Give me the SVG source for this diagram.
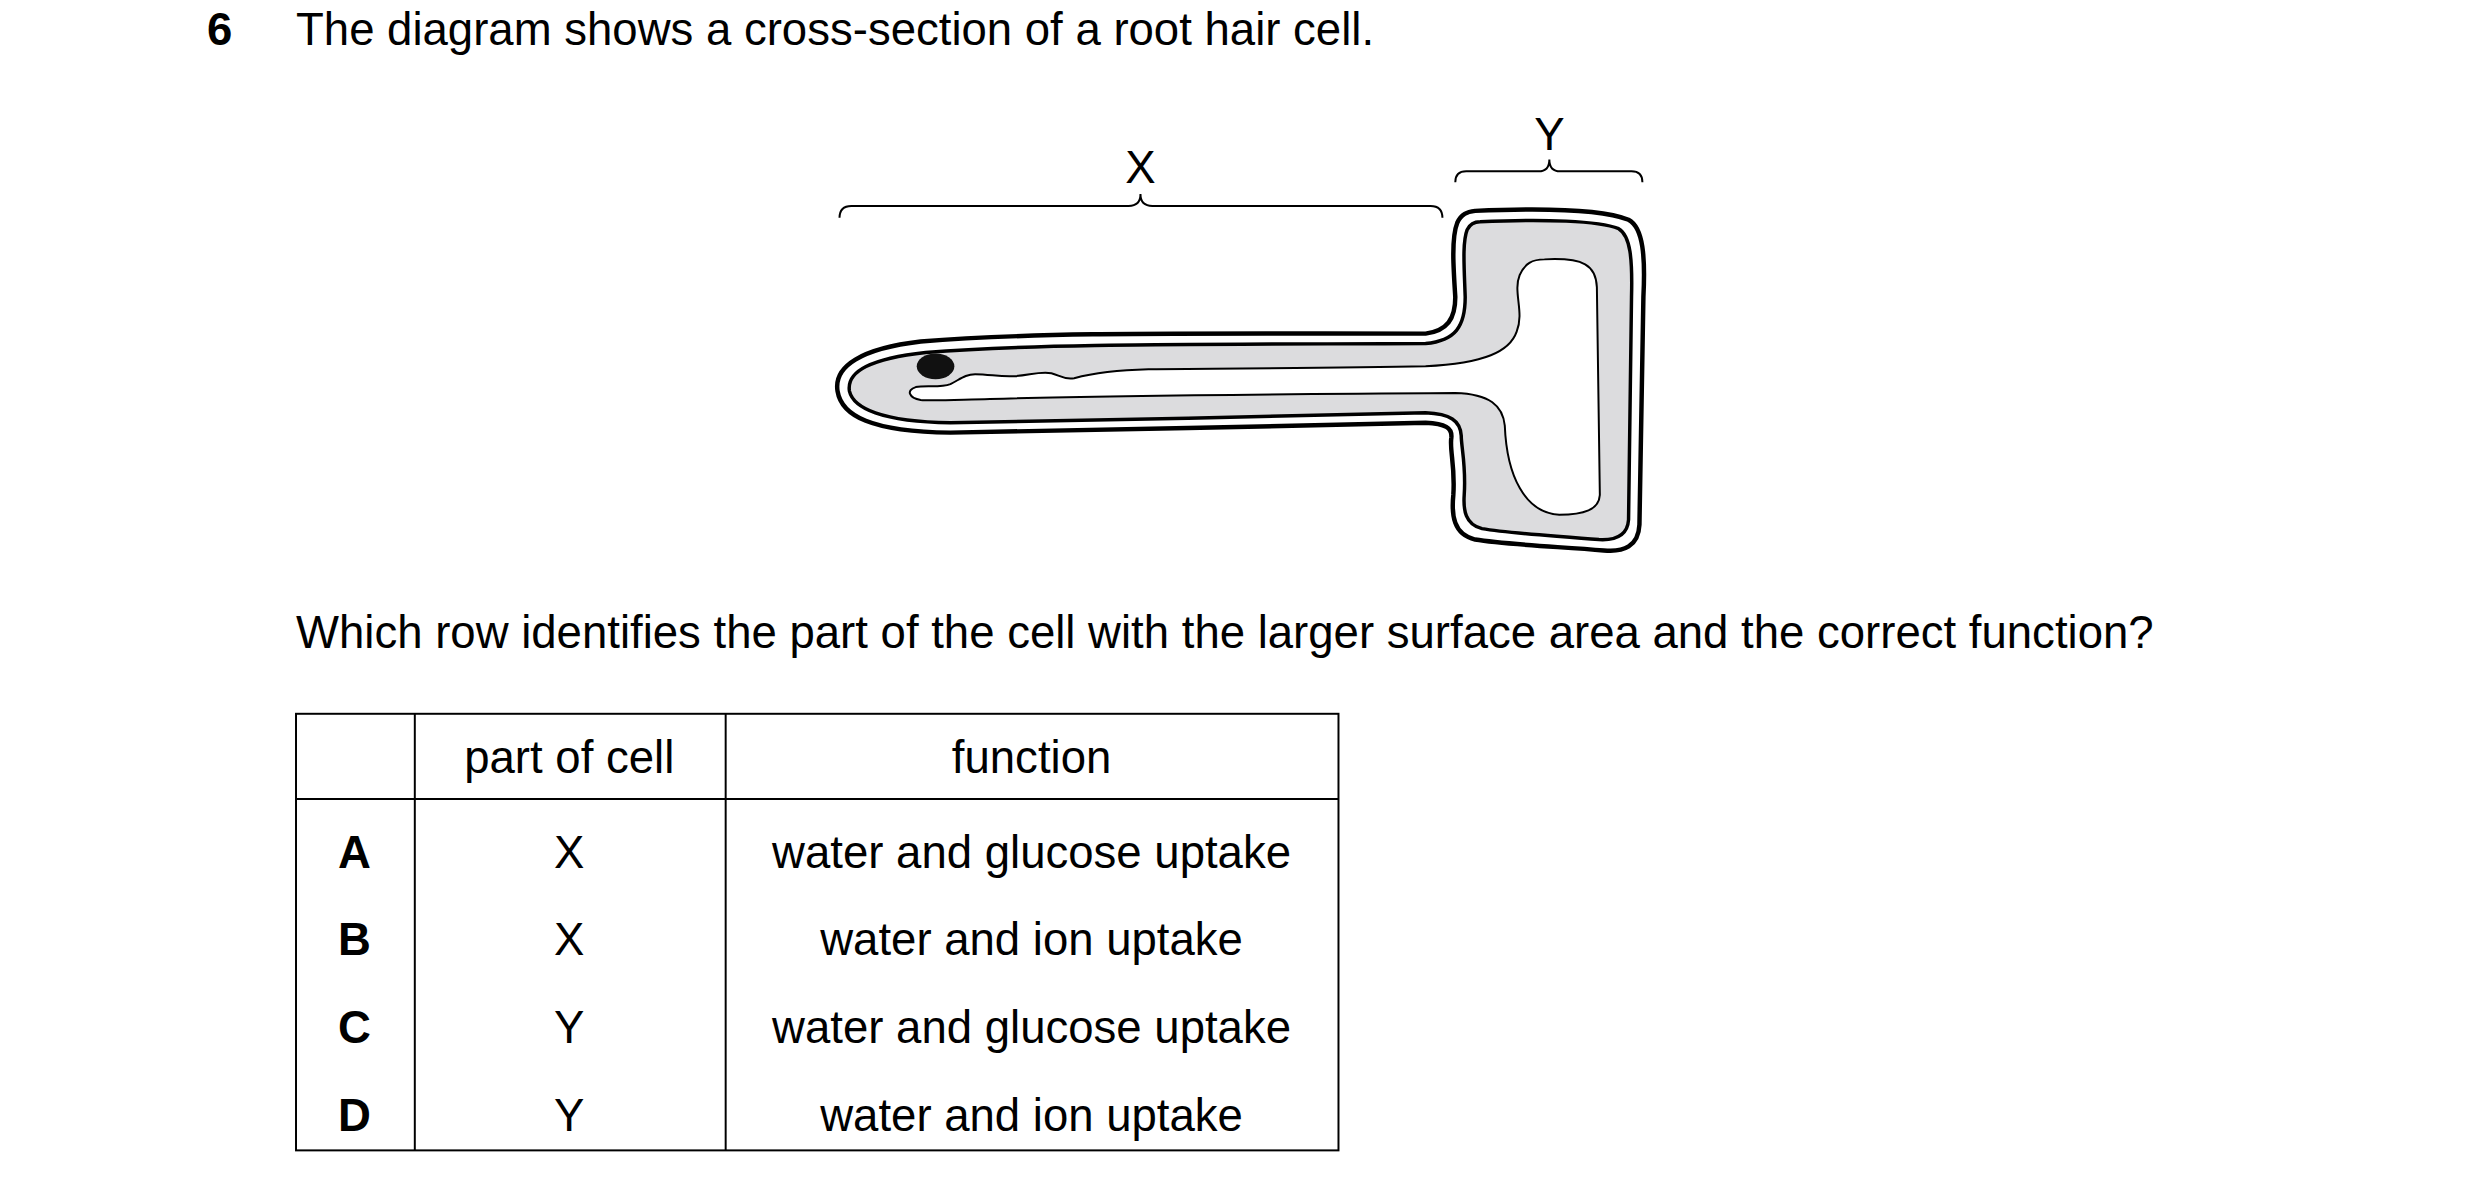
<svg xmlns="http://www.w3.org/2000/svg" width="2480" height="1191" viewBox="0 0 2480 1191">
<style>
text{font-family:"Liberation Sans",Arial,sans-serif;font-size:46px;fill:#000}
.b{font-weight:bold}
.c{text-anchor:middle}
.ln{stroke:#000;stroke-width:2;fill:none}
</style>
<rect width="2480" height="1191" fill="#fff"/>
<g transform="scale(0.99)">
<text x="209" y="45" class="b">6</text>
<text x="299" y="45">The diagram shows a cross-section of a root hair cell.</text>
<g id="cell">
<path d="M1490,213 C1560,210 1620,212 1645,222 C1660,230 1662,260 1660,300 L1656,530 C1655,552 1640,558 1620,556 C1570,552 1520,550 1490,545 C1468,540 1466,520 1468,500 C1470,470 1464,455 1466,442 C1467,432 1460,428 1440,427 C1300,430 1100,435 960,437 C880,436 850,420 846,395 C842,370 870,352 930,345 C1050,335 1200,337 1440,337 C1462,334 1470,322 1470,300 C1468,270 1466,240 1472,225 C1476,216 1482,214 1490,213 Z" fill="#fff" stroke="#000" stroke-width="4.5"/>
<path d="M1495,224 C1560,221 1615,223 1635,231 C1647,238 1649,262 1648,300 L1645,525 C1644,540 1633,546 1615,545 C1570,541 1525,539 1497,534 C1480,530 1478,515 1479,500 C1481,470 1476,452 1476,440 C1475,425 1465,418 1440,417 C1300,420 1100,425 960,427 C890,426 862,412 858,395 C855,375 880,362 935,356 C1050,347 1200,348 1440,347 C1470,344 1480,330 1480,300 C1479,270 1477,245 1482,232 C1485,226 1489,224 1495,224 Z" fill="#dcdcde" stroke="#000" stroke-width="3.5"/>
<path d="M1560,262 C1600,260 1612,268 1613,290 L1616,500 C1615,515 1600,520 1575,520 C1540,518 1522,480 1520,430 C1518,410 1505,398 1470,397 C1300,398 1100,400 1000,403 C960,404 940,405 930,404 C918,402 915,394 925,391 C935,389 950,392 960,388 C970,383 975,378 985,378 C1000,378 1010,381 1025,380 C1040,379 1050,375 1062,377 C1070,379 1075,384 1085,382 C1100,378 1120,374 1160,373 C1250,372 1350,372 1440,370 C1500,367 1525,355 1532,335 C1540,315 1528,295 1535,278 C1540,266 1548,262 1560,262 Z" fill="#fff" stroke="#000" stroke-width="2"/>
<ellipse cx="945" cy="370" rx="19" ry="13" fill="#111"/>
</g>
<g id="brackets">
<path class="ln" d="M848,220 Q848,208 860,208 L1140,208 Q1152,208 1152,196 Q1152,208 1164,208 L1445,208 Q1457,208 1457,220"/>
<path class="ln" d="M1470,184 Q1470,173 1481,173 L1554,173 Q1565,173 1565,161 Q1565,173 1576,173 L1648,173 Q1659,173 1659,184"/>
<text x="1152" y="185" class="c">X</text>
<text x="1565" y="152" class="c">Y</text>
</g>
<text x="299" y="655">Which row identifies the part of the cell with the larger surface area and the correct function?</text>
<g id="table">
<rect x="299" y="721" width="1053" height="441" class="ln"/>
<line x1="299" y1="807" x2="1352" y2="807" class="ln"/>
<line x1="419" y1="721" x2="419" y2="1162" class="ln"/>
<line x1="733" y1="721" x2="733" y2="1162" class="ln"/>
<text x="575" y="781" class="c">part of cell</text>
<text x="1042" y="781" class="c">function</text>
<text x="358" y="877" class="c b">A</text><text x="575" y="877" class="c">X</text><text x="1042" y="877" class="c">water and glucose uptake</text>
<text x="358" y="965" class="c b">B</text><text x="575" y="965" class="c">X</text><text x="1042" y="965" class="c">water and ion uptake</text>
<text x="358" y="1054" class="c b">C</text><text x="575" y="1054" class="c">Y</text><text x="1042" y="1054" class="c">water and glucose uptake</text>
<text x="358" y="1142" class="c b">D</text><text x="575" y="1142" class="c">Y</text><text x="1042" y="1142" class="c">water and ion uptake</text>
</g>
</g>
</svg>
